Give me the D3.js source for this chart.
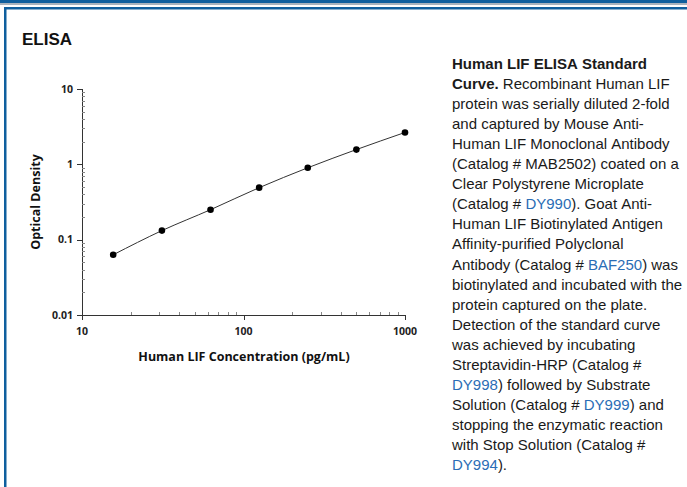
<!DOCTYPE html>
<html>
<head>
<meta charset="utf-8">
<script src="https://d3js.org/d3.v7.min.js"></script>
<style>
  body { margin: 0; background: #fff; }
  svg { display: block; }
</style>
</head>
<body>
<div id="chart"></div>
<script>
// standard curve data
var conc = [15.6, 31.25, 62.5, 125, 250, 500, 1000];
var od = [0.063, 0.132, 0.25, 0.49, 0.9, 1.57, 2.65];
var xTicks = [10, 100, 1000];
var yTicks = [0.01, 0.1, 1, 10];

// caption lines, [text, style] segments
var caption = [
  [["Human LIF ELISA Standard", "b"]],
  [["Curve.", "b"], [" Recombinant Human LIF", ""]],
  [["protein was serially diluted 2-fold", ""]],
  [["and captured by Mouse Anti-", ""]],
  [["Human LIF Monoclonal Antibody", ""]],
  [["(Catalog # MAB2502) coated on a", ""]],
  [["Clear Polystyrene Microplate", ""]],
  [["(Catalog # ", ""], ["DY990", "a"], ["). Goat Anti-", ""]],
  [["Human LIF Biotinylated Antigen", ""]],
  [["Affinity-purified Polyclonal", ""]],
  [["Antibody (Catalog # ", ""], ["BAF250", "a"], [") was", ""]],
  [["biotinylated and incubated with the", ""]],
  [["protein captured on the plate.", ""]],
  [["Detection of the standard curve", ""]],
  [["was achieved by incubating", ""]],
  [["Streptavidin-HRP (Catalog #", ""]],
  [["DY998", "a"], [") followed by Substrate", ""]],
  [["Solution (Catalog # ", ""], ["DY999", "a"], [") and", ""]],
  [["stopping the enzymatic reaction", ""]],
  [["with Stop Solution (Catalog #", ""]],
  [["DY994", "a"], [").", ""]]
];

var W = 687, H = 487;
var svg = d3.select("#chart").append("svg")
  .attr("width", W).attr("height", H);

// frame
svg.append("rect").attr("x", 0).attr("y", 0).attr("width", W).attr("height", 3).attr("fill", "#0f5f9e");
svg.append("rect").attr("x", 0).attr("y", 3).attr("width", W).attr("height", 2).attr("fill", "#a9b3bd");
svg.append("rect").attr("x", 4).attr("y", 7).attr("width", W - 4).attr("height", 2.5).attr("fill", "#0f5f9e");
svg.append("rect").attr("x", 4).attr("y", 7).attr("width", 2.5).attr("height", H - 7).attr("fill", "#0f5f9e");

svg.append("text").attr("x", 22).attr("y", 45)
  .text("ELISA")
  .style("font-family", "Liberation Sans, Arial, sans-serif")
  .style("font-size", "17px").style("font-weight", "bold").attr("fill", "#111");

// plot area
var x = d3.scaleLog().domain([10, 1000]).range([82, 405]);
var y = d3.scaleLog().domain([0.01, 10]).range([315, 89]);

var tickFont = "Open Sans, DejaVu Sans, sans-serif";

// minor ticks
var minorX = [], minorY = [];
[10, 100].forEach(function(d) { for (var k = 2; k <= 9; k++) minorX.push(d * k); });
[0.01, 0.1, 1].forEach(function(d) { for (var k = 2; k <= 9; k++) minorY.push(d * k); });

var ax = svg.append("g").attr("stroke", "#333").attr("stroke-width", 1);
ax.append("line").attr("x1", x(10)).attr("x2", x(1000)).attr("y1", y(0.01) + 0.5).attr("y2", y(0.01) + 0.5);
ax.append("line").attr("x1", x(10) + 0.5).attr("x2", x(10) + 0.5).attr("y1", y(10)).attr("y2", y(0.01));
ax.selectAll(".mx").data(minorX).enter().append("line")
  .attr("x1", function(d) { return Math.round(x(d)) + 0.5; })
  .attr("x2", function(d) { return Math.round(x(d)) + 0.5; })
  .attr("y1", y(0.01)).attr("y2", y(0.01) - 3).attr("stroke", "#888");
ax.selectAll(".my").data(minorY).enter().append("line")
  .attr("y1", function(d) { return Math.round(y(d)) + 0.5; })
  .attr("y2", function(d) { return Math.round(y(d)) + 0.5; })
  .attr("x1", x(10)).attr("x2", x(10) + 3).attr("stroke", "#888");
ax.selectAll(".Mx").data(xTicks).enter().append("line")
  .attr("x1", function(d) { return Math.round(x(d)) + 0.5; })
  .attr("x2", function(d) { return Math.round(x(d)) + 0.5; })
  .attr("y1", y(0.01)).attr("y2", y(0.01) + 5);
ax.selectAll(".My").data(yTicks).enter().append("line")
  .attr("y1", function(d) { return Math.round(y(d)) + 0.5; })
  .attr("y2", function(d) { return Math.round(y(d)) + 0.5; })
  .attr("x1", x(10)).attr("x2", x(10) - 5);

svg.selectAll(".xl").data(xTicks).enter().append("text")
  .attr("x", function(d) { return x(d); }).attr("y", 335)
  .attr("text-anchor", "middle")
  .style("font-family", tickFont).style("font-size", "10.5px").style("font-weight", "bold")
  .attr("fill", "#222").text(function(d) { return d; });
svg.selectAll(".yl").data(yTicks).enter().append("text")
  .attr("x", 73).attr("y", function(d) { return y(d) + 3.5; })
  .attr("text-anchor", "end")
  .style("font-family", tickFont).style("font-size", "10.5px").style("font-weight", "bold")
  .attr("fill", "#222").text(function(d) { return d; });

svg.append("text").attr("x", 244).attr("y", 361).attr("text-anchor", "middle")
  .style("font-family", tickFont).style("font-size", "12.5px").style("font-weight", "bold")
  .attr("fill", "#111").text("Human LIF Concentration (pg/mL)");
svg.append("text").attr("transform", "translate(40,202) rotate(-90)").attr("text-anchor", "middle")
  .style("font-family", tickFont).style("font-size", "12.5px").style("font-weight", "bold")
  .attr("fill", "#111").text("Optical Density");

// curve and points
var line = d3.line()
  .x(function(d, i) { return x(conc[i]); })
  .y(function(d) { return y(d); })
  .curve(d3.curveMonotoneX);
svg.append("path").datum(od).attr("d", line)
  .attr("fill", "none").attr("stroke", "#333").attr("stroke-width", 1);
svg.selectAll(".pt").data(od).enter().append("circle")
  .attr("cx", function(d, i) { return x(conc[i]); })
  .attr("cy", function(d) { return y(d); })
  .attr("r", 3.3).attr("fill", "#000");

// caption
var cap = svg.append("text")
  .style("font-family", "Liberation Sans, Arial, sans-serif")
  .style("font-size", "15px").attr("fill", "#1a1a1a");
caption.forEach(function(segs, i) {
  segs.forEach(function(s, j) {
    var t = cap.append("tspan").text(s[0].replace(/ /g, "\u00a0"));
    if (j === 0) t.attr("x", 452).attr("y", 69 + i * 20.05);
    if (s[1] === "b") t.style("font-weight", "bold");
    if (s[1] === "a") t.attr("fill", "#2a6db5");
  });
});
</script>
</body>
</html>
